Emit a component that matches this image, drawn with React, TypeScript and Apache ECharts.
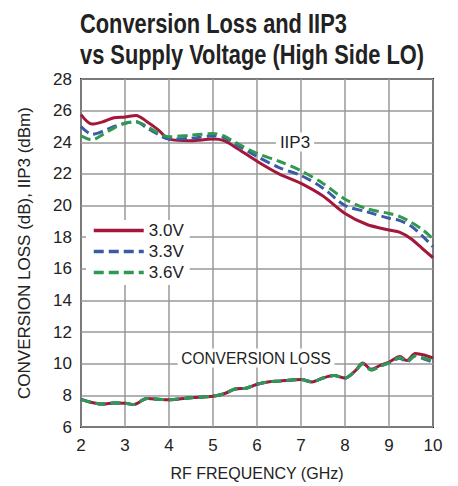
import React, { useEffect, useRef } from "react";
import * as echarts from "echarts";

const iipFreq = [2, 2.25, 2.5, 2.75, 3, 3.25, 3.5, 3.75, 4, 4.5, 5, 5.25, 5.5, 6, 6.5, 7, 7.5, 8, 8.5, 9, 9.25, 9.5, 9.75, 10];
const iip3V0 = [25.75, 25.15, 25.3, 25.55, 25.6, 25.7, 25.3, 24.8, 24.2, 24.1, 24.2, 24.1, 23.7, 22.8, 22.0, 21.4, 20.6, 19.5, 18.8, 18.45, 18.3, 17.9, 17.3, 16.7];
const iip3V3 = [25.0, 24.5, 24.7, 25.0, 25.2, 25.3, 24.9, 24.5, 24.2, 24.25, 24.4, 24.3, 23.9, 23.1, 22.4, 21.9, 21.1, 20.0, 19.6, 19.2, 19.05, 18.7, 18.1, 17.4];
const iip3V6 = [24.4, 24.15, 24.5, 24.9, 25.2, 25.3, 25.0, 24.6, 24.35, 24.45, 24.55, 24.4, 24.0, 23.3, 22.8, 22.2, 21.4, 20.4, 19.8, 19.5, 19.3, 18.95, 18.5, 17.9];

const clFreq = [2, 2.25, 2.5, 2.75, 3, 3.2, 3.5, 4, 4.5, 5, 5.25, 5.5, 5.75, 6, 6.25, 6.5, 7, 7.25, 7.5, 7.75, 8, 8.25, 8.4, 8.6, 8.8, 9, 9.25, 9.4, 9.6, 9.8, 10];
const cl3V0 = [7.75, 7.55, 7.45, 7.52, 7.5, 7.42, 7.8, 7.72, 7.85, 7.95, 8.1, 8.4, 8.45, 8.7, 8.85, 8.9, 9.0, 8.85, 9.1, 9.25, 9.1, 9.6, 10.05, 9.65, 9.9, 10.1, 10.45, 10.2, 10.65, 10.55, 10.35];
const cl3V3 = [7.75, 7.55, 7.45, 7.52, 7.5, 7.42, 7.8, 7.72, 7.85, 7.95, 8.1, 8.4, 8.45, 8.7, 8.85, 8.9, 9.0, 8.85, 9.1, 9.25, 9.1, 9.6, 10.0, 9.6, 9.85, 10.05, 10.35, 10.1, 10.5, 10.3, 10.1];
const cl3V6 = [7.75, 7.55, 7.45, 7.52, 7.5, 7.42, 7.8, 7.72, 7.85, 7.95, 8.1, 8.4, 8.45, 8.7, 8.85, 8.9, 9.0, 8.85, 9.1, 9.25, 9.1, 9.6, 10.0, 9.6, 9.85, 10.05, 10.4, 10.15, 10.5, 10.35, 10.2];

const voltages = ["3.0V", "3.3V", "3.6V"];
const titleLines = ["Conversion Loss and IIP3", "vs Supply Voltage (High Side LO)"];
const colors = ["#a3173a", "#3b5ba8", "#2f9a4f"];
const FONT = "'Liberation Sans', Arial, sans-serif";

const zip = (xs: number[], ys: number[]) => xs.map((x, i) => [x, ys[i]]);

export default function App() {
  const ref = useRef<HTMLDivElement>(null);
  useEffect(() => {
    if (!ref.current) return;
    const chart = echarts.init(ref.current, undefined, { renderer: "svg" });
    const iip = [iip3V0, iip3V3, iip3V6];
    const cl = [cl3V0, cl3V3, cl3V6];
    const mk = (name: string, data: number[][], i: number) => ({
      type: "line",
      name,
      data,
      smooth: 0.3,
      symbol: "none",
      lineStyle: {
        color: colors[i],
        width: 3,
        type: i === 0 ? "solid" : [10, 5],
      },
      itemStyle: { color: colors[i] },
      z: 3 + i,
    });
    const series: any[] = [];
    voltages.forEach((v, i) => series.push(mk(v, zip(iipFreq, iip[i]), i)));
    voltages.forEach((v, i) => series.push(mk(v, zip(clFreq, cl[i]), i)));
    chart.setOption({
      animation: false,
      grid: {
        left: 81,
        top: 79,
        right: 25,
        bottom: 56,
        show: true,
        borderColor: "#222",
        borderWidth: 2,
      },
      xAxis: {
        type: "value",
        min: 2,
        max: 10,
        interval: 1,
        name: "RF FREQUENCY (GHz)",
        nameLocation: "middle",
        nameGap: 38,
        nameTextStyle: { fontFamily: FONT, fontSize: 16, color: "#222" },
        axisLine: { show: false },
        axisTick: { show: false },
        axisLabel: { fontFamily: FONT, fontSize: 17, color: "#222", margin: 10 },
        splitLine: { lineStyle: { color: "#999", width: 1.5 } },
      },
      yAxis: {
        type: "value",
        min: 6,
        max: 28,
        interval: 2,
        name: "CONVERSION LOSS (dB), IIP3 (dBm)",
        nameLocation: "middle",
        nameGap: 48,
        nameTextStyle: { fontFamily: FONT, fontSize: 17, color: "#222" },
        axisLine: { show: false },
        axisTick: { show: false },
        axisLabel: { fontFamily: FONT, fontSize: 17, color: "#222", margin: 9 },
        splitLine: { lineStyle: { color: "#999", width: 1.5 } },
      },
      legend: {
        data: voltages,
        orient: "vertical",
        left: 86,
        top: 220,
        itemWidth: 50,
        itemHeight: 10,
        itemGap: 4,
        padding: [2, 6, 4, 6],
        backgroundColor: "#fff",
        itemStyle: { opacity: 0 },
        lineStyle: { width: 3.5 },
        textStyle: { fontFamily: FONT, fontSize: 17, color: "#222" },
      },
      graphic: [
        {
          type: "text",
          x: 80,
          y: 23,
          scaleX: 0.78,
          style: {
            text: titleLines[0],
            fontFamily: FONT,
            fontWeight: "bold",
            fontSize: 28,
            fill: "#222",
            verticalAlign: "middle",
          },
        },
        {
          type: "text",
          x: 80,
          y: 54,
          scaleX: 0.78,
          style: {
            text: titleLines[1],
            fontFamily: FONT,
            fontWeight: "bold",
            fontSize: 28,
            fill: "#222",
            verticalAlign: "middle",
          },
        },
        {
          type: "text",
          x: 295,
          y: 142,
          z: 10,
          style: {
            text: "IIP3",
            fontFamily: FONT,
            fontSize: 17,
            fill: "#222",
            align: "center",
            verticalAlign: "middle",
            backgroundColor: "#fff",
            padding: [1, 4],
          },
        },
        {
          type: "text",
          x: 256,
          y: 358,
          z: 10,
          scaleX: 0.91,
          style: {
            text: "CONVERSION LOSS",
            fontFamily: FONT,
            fontSize: 17,
            fill: "#222",
            align: "center",
            verticalAlign: "middle",
            backgroundColor: "#fff",
            padding: [1, 4],
          },
        },
      ],
      series,
    });
    return () => chart.dispose();
  }, []);
  return <div ref={ref} style={{ position: "absolute", left: 0, top: 0, width: 458, height: 486 }} />;
}
